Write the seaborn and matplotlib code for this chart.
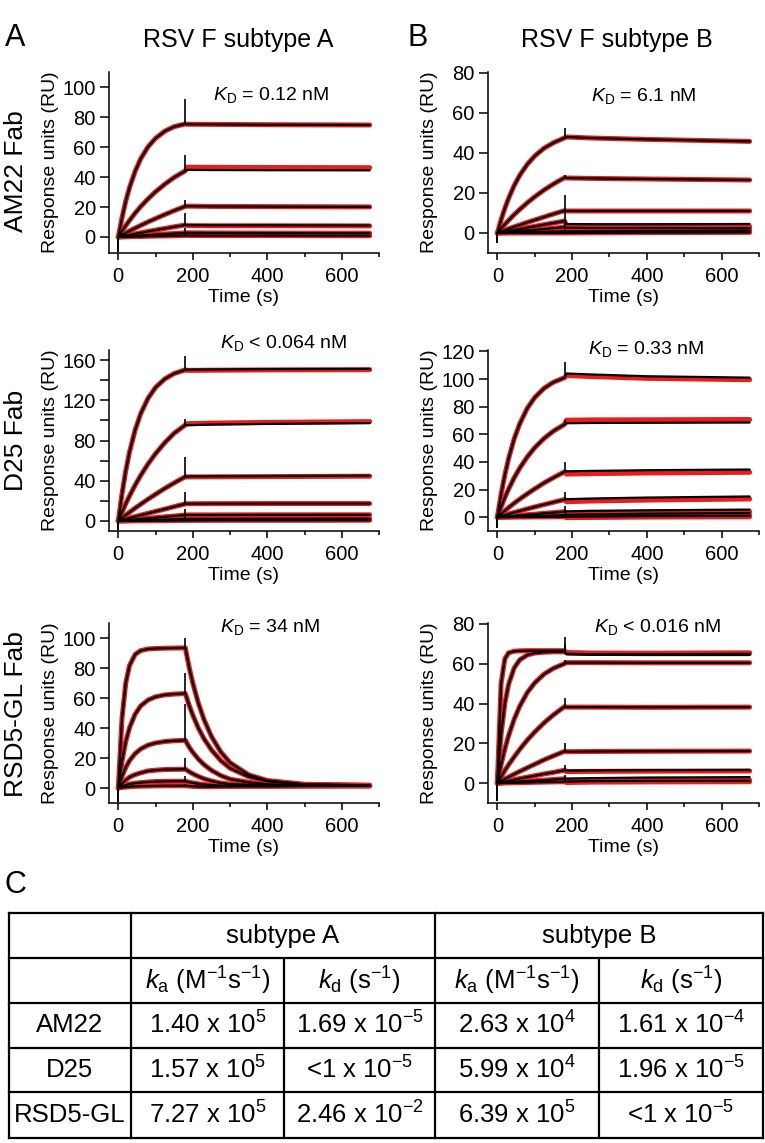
import matplotlib
matplotlib.use("Agg")
import matplotlib.pyplot as plt
import seaborn as sns
import pandas as pd

# ---- sensorgram data (RU) ----
T_ASSOC = [0, 10, 20, 30, 45, 60, 80, 100, 125, 150, 180]
T_DISS = [180, 185, 250, 400, 675]
T_DISS_FAST = [180, 190, 200, 215, 230, 250, 275, 300, 350, 400, 500, 675]

# AM22 Fab, subtype A
AM22_A_ASSOC = [[0, 13.0, 23.9, 32.9, 43.8, 52.2, 60.3, 65.9, 70.7, 73.7, 75.5],
                [0, 3.9, 7.6, 11.0, 15.9, 20.3, 25.5, 30.2, 35.3, 39.8, 44.2],
                [0, 1.3, 2.7, 4.0, 5.9, 7.7, 10.1, 12.3, 15.0, 17.6, 20.5],
                [0, 0.5, 1.0, 1.4, 2.1, 2.8, 3.7, 4.6, 5.7, 6.8, 8.0],
                [0, 0.2, 0.3, 0.5, 0.7, 1.0, 1.3, 1.6, 2.0, 2.3, 2.8],
                [0, 0.1, 0.1, 0.2, 0.3, 0.3, 0.5, 0.6, 0.7, 0.8, 1.0]]
AM22_A_DISS = [[75.5, 75.3, 75.2, 75.0, 74.8],
               [44.2, 44.8, 44.7, 44.6, 44.5],
               [20.5, 20.6, 20.4, 20.3, 20.1],
               [8.0, 7.9, 7.8, 7.8, 7.7],
               [2.8, 2.8, 2.7, 2.6, 2.5],
               [1.0, 1.0, 0.9, 0.9, 0.8]]
AM22_A_FIT_SHIFT = [0, 1.8, 0, -0.3, 0, 0]
AM22_A_SPIKE = [92, 55, 25, 16, 6, 3]
AM22_A_DIP = -10

# AM22 Fab, subtype B
AM22_B_ASSOC = [[0, 6.6, 12.3, 17.3, 23.7, 28.9, 34.3, 38.5, 42.4, 45.1, 47.6],
                [0, 2.2, 4.3, 6.3, 9.2, 11.8, 15.1, 18.1, 21.5, 24.5, 27.7],
                [0, 0.7, 1.4, 2.1, 3.1, 4.0, 5.3, 6.5, 8.0, 9.5, 11.2],
                [0, 0.3, 0.7, 1.0, 1.5, 2.0, 2.7, 3.3, 4.2, 5.0, 6.0],
                [0, 0.2, 0.3, 0.5, 0.7, 1.0, 1.3, 1.6, 2.0, 2.4, 2.9],
                [0, 0.1, 0.1, 0.2, 0.2, 0.3, 0.4, 0.5, 0.6, 0.7, 0.8],
                [0, 0, 0, 0, 0, 0, 0, 0, 0, 0, 0]]
AM22_B_DISS = [[47.6, 48.0, 47.5, 46.8, 45.8],
               [27.7, 27.5, 27.3, 27.0, 26.5],
               [11.2, 11.0, 11.0, 11.0, 11.0],
               [6.0, 4.5, 4.4, 4.4, 4.5],
               [2.9, 2.6, 2.5, 2.5, 2.4],
               [0.8, 0.8, 0.8, 1.0, 1.2],
               [0, 0, 0.1, 0.2, 0.3]]
AM22_B_FIT_SHIFT = [0, 0, 0, -1.2, 0, 0, 0]
AM22_B_SPIKE = [52.3, 29, 18.8, 11.6, 5, 2, 1]
AM22_B_DIP = -5

# D25 Fab, subtype A
D25_A_ASSOC = [[0, 27.3, 49.8, 68.4, 90.2, 106.6, 122.1, 132.7, 141.3, 146.6, 150.3],
               [0, 8.8, 17.1, 24.8, 35.5, 45.2, 56.8, 66.9, 77.9, 87.2, 95.5],
               [0, 2.9, 5.8, 8.6, 12.7, 16.6, 21.7, 26.5, 32.4, 37.8, 44.0],
               [0, 0.9, 1.9, 2.9, 4.3, 5.7, 7.6, 9.5, 11.8, 14.2, 17.0],
               [0, 0.3, 0.7, 1.0, 1.5, 2.0, 2.7, 3.3, 4.1, 4.9, 5.9],
               [0, 0.1, 0.2, 0.3, 0.5, 0.7, 0.9, 1.1, 1.4, 1.6, 2.0],
               [0, 0, 0, 0.1, 0.1, 0.2, 0.2, 0.3, 0.3, 0.4, 0.5]]
D25_A_DISS = [[150.3, 150.5, 150.7, 151.0, 151.2],
              [95.5, 95.2, 95.8, 96.5, 97.3],
              [44.0, 44.3, 44.4, 44.6, 45.0],
              [17.0, 17.1, 17.2, 17.3, 17.3],
              [5.9, 6.0, 6.0, 6.1, 6.1],
              [2.0, 2.0, 2.1, 2.1, 2.2],
              [0.5, 0.5, 0.6, 0.6, 0.7]]
D25_A_FIT_SHIFT = [-0.8, 1.5, -0.5, 0, 0, 0, 0]
D25_A_SPIKE = [164, 101, 64, 29, 12, 6, 3]
D25_A_DIP = -9

# D25 Fab, subtype B
D25_B_ASSOC = [[0, 16.6, 30.5, 42.3, 56.7, 67.7, 78.8, 86.6, 93.3, 97.7, 101.0],
               [0, 7.4, 14.2, 20.3, 28.5, 35.6, 43.6, 50.3, 57.0, 62.3, 67.2],
               [0, 2.4, 4.6, 6.9, 10.1, 13.1, 16.9, 20.5, 24.8, 28.6, 32.9],
               [0, 0.8, 1.5, 2.3, 3.4, 4.5, 6.0, 7.4, 9.1, 10.8, 12.8],
               [0, 0.2, 0.4, 0.7, 1.0, 1.3, 1.8, 2.2, 2.8, 3.3, 4.0],
               [0, 0.1, 0.2, 0.2, 0.4, 0.5, 0.7, 0.8, 1.0, 1.2, 1.5],
               [0, 0, 0, 0, 0.1, 0.1, 0.1, 0.2, 0.2, 0.3, 0.3]]
D25_B_DISS = [[101.0, 104.0, 103.3, 102.0, 101.0],
              [67.2, 68.0, 68.2, 68.3, 68.5],
              [32.9, 33.2, 33.5, 34.0, 34.5],
              [12.8, 13.0, 13.5, 14.2, 15.0],
              [4.0, 4.2, 4.6, 5.0, 5.5],
              [1.5, 1.7, 2.0, 2.5, 3.0],
              [0.3, 0.4, 0.5, 0.8, 1.0]]
D25_B_FIT_SHIFT = [-1.5, 2.2, -2.0, -1.8, -1.5, -1.5, -0.7]
D25_B_SPIKE = [112, 70, 40, 18, 8, 5, 2]
D25_B_DIP = -8

# RSD5-GL Fab, subtype A
RSD5_A_ASSOC = [[0, 46.8, 70.0, 81.6, 89.0, 91.6, 92.7, 93.0, 93.2, 93.3, 93.4],
                [0, 18.0, 30.9, 40.1, 49.2, 54.7, 58.7, 60.8, 62.1, 62.6, 63.0],
                [0, 7.8, 13.7, 18.2, 22.9, 26.0, 28.6, 30.0, 31.0, 31.5, 31.8],
                [0, 2.9, 5.3, 7.2, 8.9, 10.1, 11.4, 11.9, 12.3, 12.4, 12.5],
                [0, 1.1, 1.9, 2.6, 3.2, 3.6, 4.0, 4.3, 4.4, 4.5, 4.5],
                [0, 0.4, 0.6, 0.9, 1.1, 1.2, 1.3, 1.4, 1.5, 1.5, 1.5]]
RSD5_A_DISS = [[93.4, 80.7, 70.0, 56.5, 45.7, 34.4, 24.1, 16.9, 8.8, 5.0, 2.5, 1.8],
               [63.0, 55.3, 48.6, 39.9, 32.9, 25.4, 18.3, 13.2, 7.5, 4.5, 2.2, 1.8],
               [31.8, 27.4, 23.8, 19.3, 15.6, 11.8, 8.3, 5.9, 3.8, 2.5, 1.8, 1.6],
               [12.5, 10.9, 9.5, 7.7, 6.2, 4.7, 3.3, 2.6, 2.2, 1.6, 1.5, 1.5],
               [4.5, 3.9, 3.4, 2.8, 2.3, 1.9, 1.6, 1.4, 1.4, 1.3, 1.4, 1.5],
               [1.5, 1.3, 1.1, 1.0, 0.9, 0.9, 1.0, 1.0, 1.1, 1.1, 1.3, 1.4]]
RSD5_A_FIT_SHIFT = [0, 0, 0, 0, 0, 0]
RSD5_A_SPIKE = [100, 77, 56, 20, 8, 3]
RSD5_A_DIP = -9

# RSD5-GL Fab, subtype B
RSD5_B_ASSOC = [[0, 50.1, 62.4, 65.5, 66.3, 66.5, 66.6, 66.6, 66.6, 66.6, 66.6],
                [0, 24.5, 40.0, 49.6, 57.9, 62.0, 64.4, 65.4, 65.8, 66.0, 66.0],
                [0, 9.2, 17.1, 23.8, 32.1, 38.7, 45.5, 50.4, 54.8, 57.7, 60.1],
                [0, 3.2, 6.3, 9.2, 13.2, 17.0, 21.6, 25.7, 30.3, 34.3, 38.5],
                [0, 1.0, 2.1, 3.0, 4.5, 5.9, 7.7, 9.5, 11.7, 13.7, 16.0],
                [0, 0.4, 0.8, 1.1, 1.7, 2.3, 3.0, 3.7, 4.6, 5.4, 6.5],
                [0, 0.1, 0.3, 0.4, 0.6, 0.8, 1.0, 1.2, 1.5, 1.8, 2.2],
                [0, 0, 0.1, 0.1, 0.2, 0.2, 0.3, 0.4, 0.5, 0.6, 0.7]]
RSD5_B_DISS = [[66.6, 65.0, 64.8, 64.8, 65.0],
               [66.0, 64.8, 64.5, 64.4, 64.4],
               [60.1, 60.6, 60.6, 60.5, 60.5],
               [38.5, 38.2, 38.2, 38.1, 38.2],
               [16.0, 15.8, 15.9, 16.0, 16.1],
               [6.5, 6.3, 6.4, 6.5, 6.6],
               [2.2, 2.3, 2.5, 2.8, 3.0],
               [0.7, 0.8, 1.0, 1.1, 1.2]]
RSD5_B_FIT_SHIFT = [0.5, 0.8, 0, 0, 0, -0.5, -1.5, -0.5]
RSD5_B_SPIKE = [73.6, 70, 62, 42.7, 20.2, 9.3, 4, 2]
RSD5_B_DIP = -9

KD_TEXT = [r"$\mathit{K}_{\mathrm{D}}$ = 0.12 nM", r"$\mathit{K}_{\mathrm{D}}$ = 6.1 nM",
           r"$\mathit{K}_{\mathrm{D}}$ < 0.064 nM", r"$\mathit{K}_{\mathrm{D}}$ = 0.33 nM",
           r"$\mathit{K}_{\mathrm{D}}$ = 34 nM", r"$\mathit{K}_{\mathrm{D}}$ < 0.016 nM"]
ROW_LABELS = ["AM22 Fab", "D25 Fab", "RSD5-GL Fab"]
COL_TITLES = ["RSV F subtype A", "RSV F subtype B"]

# ---- kinetics table ----
TABLE_ROWS = ["AM22", "D25", "RSD5-GL"]
KA_A = ["1.40 x 10$^{5}$", "1.57 x 10$^{5}$", "7.27 x 10$^{5}$"]
KD_A = ["1.69 x 10$^{-5}$", "<1 x 10$^{-5}$", "2.46 x 10$^{-2}$"]
KA_B = ["2.63 x 10$^{4}$", "5.99 x 10$^{4}$", "6.39 x 10$^{5}$"]
KD_B = ["1.61 x 10$^{-4}$", "1.96 x 10$^{-5}$", "<1 x 10$^{-5}$"]
KA_HEAD = r"$\mathit{k}_{\mathrm{a}}$ (M$^{-1}$s$^{-1}$)"
KD_HEAD = r"$\mathit{k}_{\mathrm{d}}$ (s$^{-1}$)"


def curves_df(assoc, diss, t_diss, shift, fit):
    rows = []
    for i, (a, d) in enumerate(zip(assoc, diss)):
        for t, v in zip(T_ASSOC, a):
            rows.append((i, t, v))
        for j, (t, v) in enumerate(zip(t_diss, d)):
            off = shift[i] if (fit and j > 0) else 0
            rows.append((i, t, v + off))
    return pd.DataFrame(rows, columns=["curve", "t", "ru"])


sns.set_theme(style="ticks")
plt.rcParams["font.family"] = ["Liberation Sans", "DejaVu Sans"]
plt.rcParams["mathtext.fontset"] = "custom"
plt.rcParams["mathtext.rm"] = "Liberation Sans"
plt.rcParams["mathtext.it"] = "Liberation Sans:italic"
plt.rcParams["axes.linewidth"] = 1.1
for key in ("text.color", "axes.labelcolor", "xtick.color", "ytick.color", "axes.edgecolor"):
    plt.rcParams[key] = "black"

W, H = 765, 1143
fig = plt.figure(figsize=(W / 100, H / 100), dpi=100)

COL_LEFT = [109, 488]
COL_W = [270, 271]
ROW_TOP = [72, 350, 623]
ROW_BOT = [253, 531, 803]

panels = [
    (AM22_A_ASSOC, AM22_A_DISS, T_DISS, AM22_A_FIT_SHIFT, AM22_A_SPIKE, AM22_A_DIP),
    (AM22_B_ASSOC, AM22_B_DISS, T_DISS, AM22_B_FIT_SHIFT, AM22_B_SPIKE, AM22_B_DIP),
    (D25_A_ASSOC, D25_A_DISS, T_DISS, D25_A_FIT_SHIFT, D25_A_SPIKE, D25_A_DIP),
    (D25_B_ASSOC, D25_B_DISS, T_DISS, D25_B_FIT_SHIFT, D25_B_SPIKE, D25_B_DIP),
    (RSD5_A_ASSOC, RSD5_A_DISS, T_DISS_FAST, RSD5_A_FIT_SHIFT, RSD5_A_SPIKE, RSD5_A_DIP),
    (RSD5_B_ASSOC, RSD5_B_DISS, T_DISS, RSD5_B_FIT_SHIFT, RSD5_B_SPIKE, RSD5_B_DIP),
]
ylims = [(-10.7, 110.2), (-10, 80.5), (-10, 170), (-10, 121), (-10, 110), (-10, 80.5)]
yticks = [range(0, 101, 20), range(0, 81, 20), range(0, 161, 40),
          range(0, 121, 20), range(0, 101, 20), range(0, 81, 20)]
kd_pos = [(0.60, 0.875), (0.576, 0.87), (0.645, 1.04), (0.585, 1.005), (0.596, 0.98), (0.627, 0.978)]

for k, (assoc, diss, t_diss, shift, spike, dip) in enumerate(panels):
    r, c = divmod(k, 2)
    top, bot = ROW_TOP[r], ROW_BOT[r]
    ax = fig.add_axes([COL_LEFT[c] / W, 1 - bot / H, COL_W[c] / W, (bot - top) / H])

    fit_df = curves_df(assoc, diss, t_diss, shift, True)
    dat_df = curves_df(assoc, diss, t_diss, shift, False)
    sns.lineplot(data=fit_df, x="t", y="ru", units="curve", estimator=None, sort=False,
                 color="#ec1c1c", lw=3.6, ax=ax)
    sns.lineplot(data=dat_df, x="t", y="ru", units="curve", estimator=None, sort=False,
                 color="black", lw=1.6, ax=ax)
    # injection artefacts
    ends = [a[-1] for a in assoc]
    ax.vlines([180] * len(spike), ends, spike, color="black", lw=1.2)
    ax.vlines(0, dip, 0, color="black", lw=1.4)

    ax.set_xlim(-25, 700)
    ax.set_ylim(*ylims[k])
    ax.set_xticks([0, 200, 400, 600])
    ax.set_xticks([100, 300, 500, 700], minor=True)
    ax.set_yticks(list(yticks[k]))
    if k == 2:
        ax.set_yticks([20, 60, 100, 140], minor=True)
        ax.tick_params(axis="y", which="minor", length=6.5, width=1.1)
    ax.tick_params(axis="both", which="major", labelsize=14.5, width=1.1, color="black")
    ax.tick_params(axis="y", which="major", length=6.5, pad=3)
    ax.tick_params(axis="x", which="major", length=5, pad=5)
    ax.tick_params(axis="x", which="minor", length=3, width=1.1)
    sns.despine(ax=ax)
    ax.set_xlabel("Time (s)", fontsize=14, labelpad=2)
    ax.set_ylabel("Response units (RU)", fontsize=14)
    ax.yaxis.set_label_coords(-0.185, 0.5)
    ax.text(kd_pos[k][0], kd_pos[k][1], KD_TEXT[k], transform=ax.transAxes,
            ha="center", va="center", fontsize=14)

# overlay in pixel coordinates for labels and the table
ov = fig.add_axes([0, 0, 1, 1])
ov.set_xlim(0, W)
ov.set_ylim(H, 0)
ov.axis("off")

ov.text(15, 38, "A", fontsize=22, ha="center", va="center")
ov.text(418, 38, "B", fontsize=22, ha="center", va="center")
ov.text(15, 885, "C", fontsize=22, ha="center", va="center")
ov.text(238, 40, COL_TITLES[0], fontsize=18, ha="center", va="center")
ov.text(617, 40, COL_TITLES[1], fontsize=18, ha="center", va="center")
for lab, yc in zip(ROW_LABELS, [171, 440, 714]):
    ov.text(16, yc, lab, fontsize=19, rotation=90, ha="center", va="center")

# table grid
TX = [9, 131, 284, 435, 599, 763]
TY = [913, 958, 1003, 1048, 1092, 1138]
lw = 1.6
for y in TY:
    ov.plot([TX[0], TX[-1]], [y, y], color="black", lw=lw, solid_capstyle="projecting")
for x in (TX[0], TX[1], TX[3], TX[5]):
    ov.plot([x, x], [TY[0], TY[-1]], color="black", lw=lw, solid_capstyle="projecting")
for x in (TX[2], TX[4]):
    ov.plot([x, x], [TY[1], TY[-1]], color="black", lw=lw)

fs = 18.5
yc = [(TY[i] + TY[i + 1]) / 2 for i in range(5)]
xc = [(TX[i] + TX[i + 1]) / 2 for i in range(5)]
ov.text((TX[1] + TX[3]) / 2, yc[0], "subtype A", fontsize=fs, ha="center", va="center")
ov.text((TX[3] + TX[5]) / 2, yc[0], "subtype B", fontsize=fs, ha="center", va="center")
for j, head in enumerate([KA_HEAD, KD_HEAD, KA_HEAD, KD_HEAD]):
    ov.text(xc[j + 1], yc[1], head, fontsize=fs, ha="center", va="center")
for i, name in enumerate(TABLE_ROWS):
    row = [name, KA_A[i], KD_A[i], KA_B[i], KD_B[i]]
    for j, cell in enumerate(row):
        ov.text(xc[j], yc[i + 2], cell, fontsize=fs, ha="center", va="center")

fig.savefig("out.png", dpi=100)
